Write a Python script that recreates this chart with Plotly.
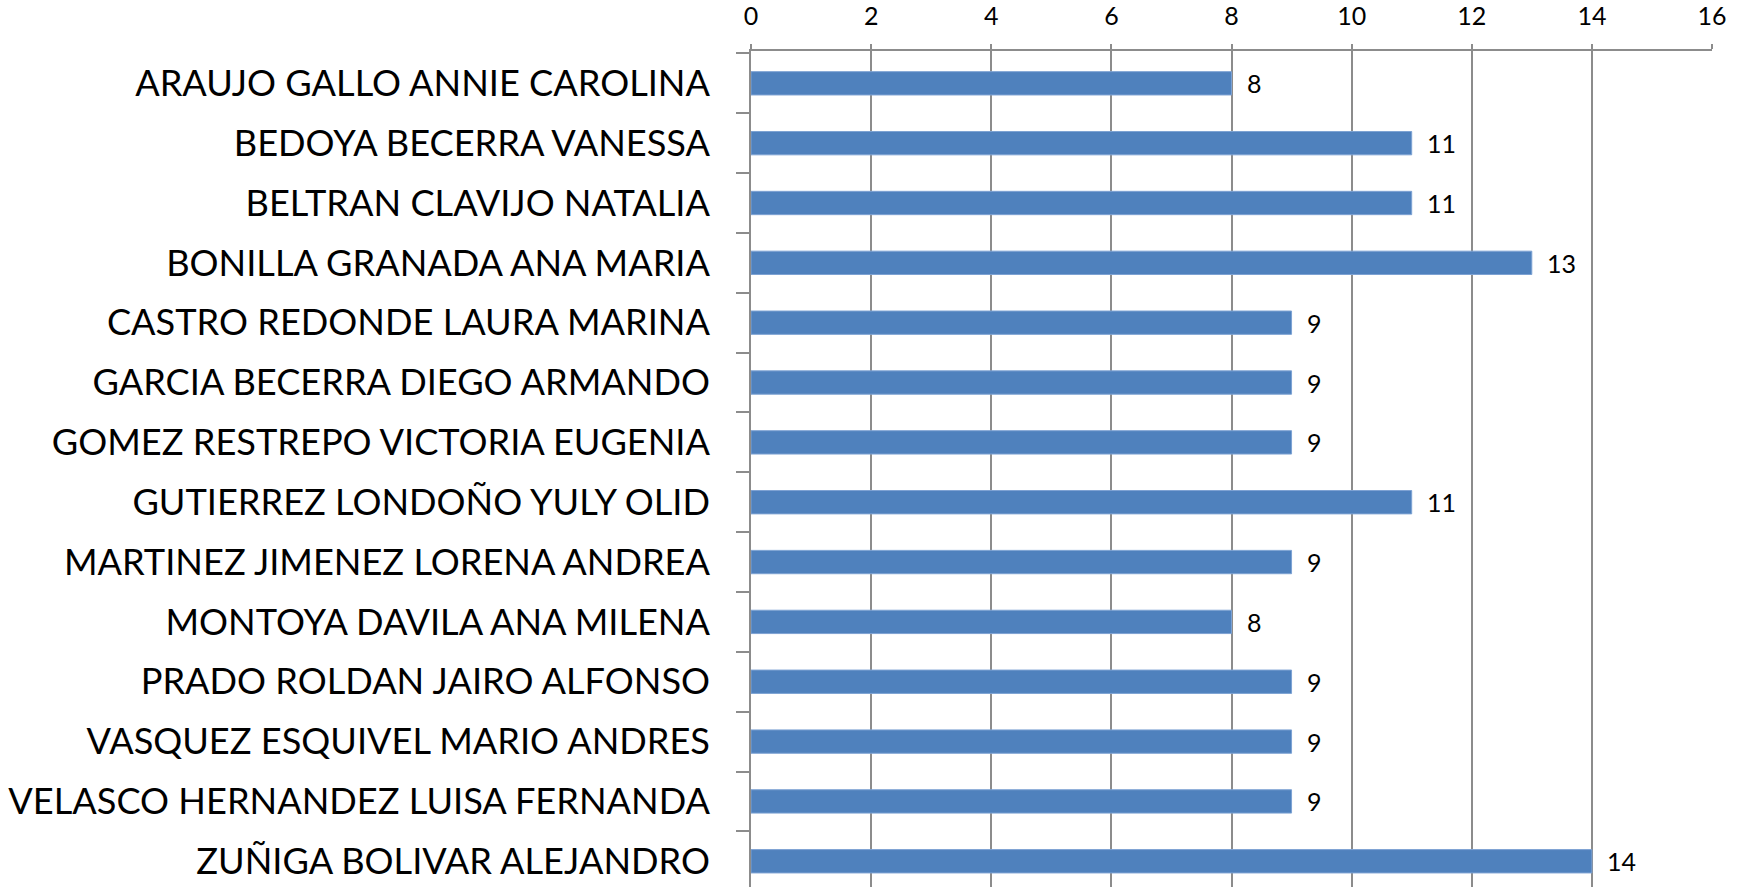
import plotly.graph_objects as go

names = [
    "ARAUJO GALLO ANNIE CAROLINA",
    "BEDOYA BECERRA VANESSA",
    "BELTRAN CLAVIJO NATALIA",
    "BONILLA GRANADA ANA MARIA",
    "CASTRO REDONDE LAURA MARINA",
    "GARCIA BECERRA DIEGO ARMANDO",
    "GOMEZ RESTREPO VICTORIA EUGENIA",
    "GUTIERREZ LONDOÑO YULY OLID",
    "MARTINEZ JIMENEZ LORENA ANDREA",
    "MONTOYA DAVILA ANA MILENA",
    "PRADO ROLDAN JAIRO ALFONSO",
    "VASQUEZ ESQUIVEL MARIO ANDRES",
    "VELASCO HERNANDEZ LUISA FERNANDA",
    "ZUÑIGA BOLIVAR ALEJANDRO",
]
values = [8, 11, 11, 13, 9, 9, 9, 11, 9, 8, 9, 9, 9, 14]
x_ticks = [0, 2, 4, 6, 8, 10, 12, 14, 16]

FONT = "Lato"
GRID = "#8c8c8c"

fig = go.Figure()
fig.add_trace(go.Bar(
    x=values,
    y=names,
    orientation="h",
    width=0.39,
    marker=dict(color="#4F81BD", line=dict(color="#7da2d3", width=1)),
    hoverinfo="x+y",
))

for n, v in zip(names, values):
    fig.add_annotation(
        x=v, y=n, text=str(v), showarrow=False,
        xanchor="left", yanchor="middle", xshift=13,
        font=dict(family=FONT, size=25, color="#000000"),
    )

fig.update_layout(
    width=1742,
    height=887,
    margin=dict(l=751, r=30, t=51, b=0, pad=0),
    paper_bgcolor="white",
    plot_bgcolor="white",
    showlegend=False,
    xaxis=dict(
        side="top",
        range=[0, 16],
        tickvals=x_ticks,
        ticktext=[str(t) for t in x_ticks],
        showgrid=True,
        gridcolor=GRID,
        gridwidth=1.5,
        zeroline=False,
        showline=True,
        linecolor=GRID,
        linewidth=1.5,
        ticks="outside",
        ticklen=5,
        tickcolor=GRID,
        tickwidth=1.5,
        ticklabelstandoff=9,
        tickfont=dict(family=FONT, size=25, color="#000000"),
        fixedrange=True,
    ),
    yaxis=dict(
        type="category",
        categoryorder="array",
        categoryarray=names,
        range=[13.43, -0.54],
        showgrid=False,
        zeroline=False,
        showline=True,
        linecolor=GRID,
        linewidth=1.5,
        ticks="outside",
        tickson="boundaries",
        ticklen=13,
        tickcolor=GRID,
        tickwidth=1.5,
        ticklabelstandoff=32,
        tickfont=dict(family=FONT, size=36.2, color="#000000"),
        fixedrange=True,
    ),
)

fig.write_html(
    "out.html",
    config={"displayModeBar": False},
    post_script="document.body.style.margin='0';document.body.style.overflow='hidden';",
)
